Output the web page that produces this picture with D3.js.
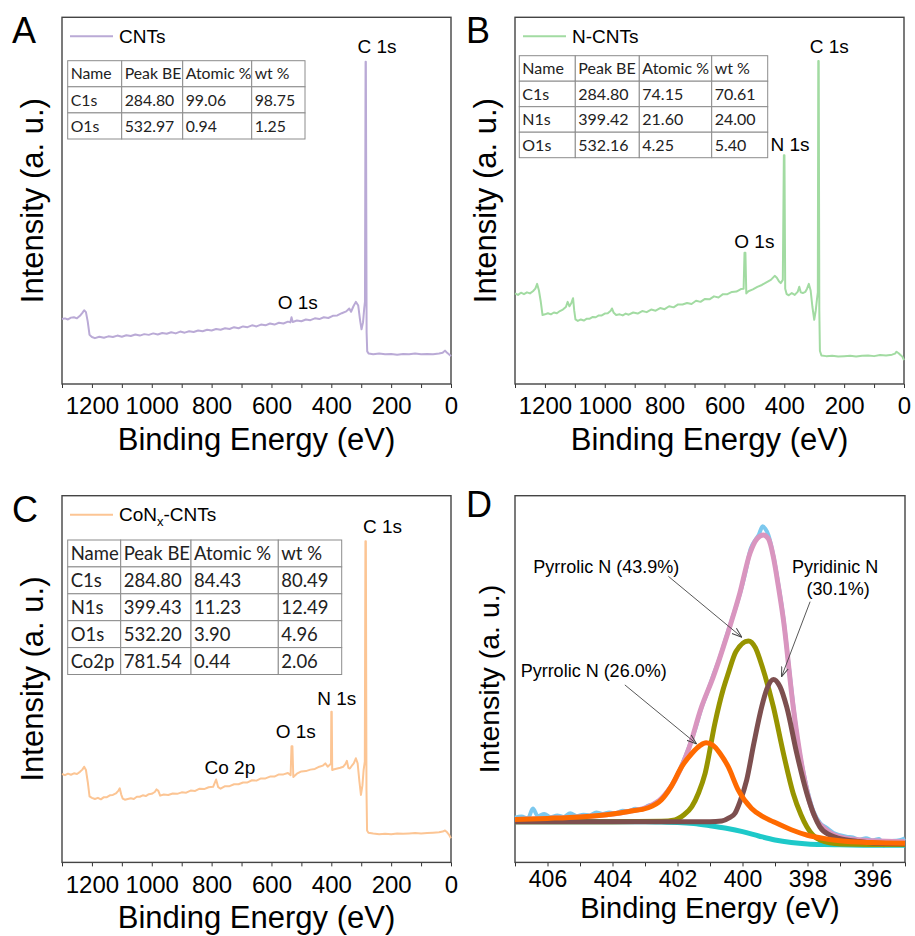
<!DOCTYPE html>
<html>
<head>
<meta charset="utf-8">
<script src="https://cdn.jsdelivr.net/npm/d3@7"></script>
<style>
	body { margin: 0; background: #fff; }
	text { font-family: 'Liberation Sans', Arial, sans-serif; fill: #000; }
	.tbl text { font-family: Lato, 'Noto Sans', sans-serif; fill: #222; }
</style>
</head>
<body>
<div id="root"></div>
<script>
// ---- data (intensity in % of plot height) ----
const surveyTicks = [1200, 1000, 800, 600, 400, 200, 0]
const surveyMinor = [1300, 1100, 900, 700, 500, 300, 100]
const hrTicks = [406, 404, 402, 400, 398, 396]
const hrMinor = [407, 405, 403, 401, 399, 397, 395]

const spectrumA = [
	[1300,17.7],[1290,17.9],[1280,17.6],[1270,18.1],[1260,18.2],[1250,17.9],[1240,18.6],[1232,19.4],[1226,20.1],[1220,19.6],
	[1214,17.0],[1208,13.4],[1200,12.8],[1190,12.5],[1175,12.9],[1160,12.6],[1145,13.0],[1130,12.8],[1115,13.2],[1100,12.9],
	[1085,13.3],[1070,13.1],[1055,13.5],[1040,13.2],[1025,13.6],[1010,13.4],[995,13.8],[980,13.5],[965,13.9],[950,13.7],
	[935,14.1],[920,13.8],[905,14.3],[890,14.0],[875,14.4],[860,14.2],[845,14.6],[830,14.4],[815,14.8],[800,14.6],
	[785,15.0],[770,14.8],[755,15.2],[740,15.0],[725,15.5],[710,15.2],[695,15.7],[680,15.5],[665,16.0],[650,15.7],
	[635,16.2],[620,16.0],[605,16.5],[590,16.2],[575,16.7],[560,16.5],[545,17.0],[537,16.8],[533,18.2],[529,16.9],
	[515,17.3],[500,17.1],[485,17.6],[470,17.4],[455,17.9],[440,17.7],[425,18.2],[410,18.0],[395,18.6],[380,18.7],
	[365,19.3],[350,19.8],[340,20.6],[334,19.7],[326,21.2],[318,22.4],[310,21.4],[304,17.5],[299,14.9],[294,16.8],
	[290,20.6],[287.5,22.5],[285.5,87.9],[284.5,87.9],[282,14.0],[280,8.9],[275,8.3],[260,8.1],[240,8.3],[220,8.1],
	[200,8.2],[180,8.0],[160,8.2],[140,8.1],[120,8.3],[100,8.1],[80,8.2],[60,8.1],[40,8.3],[28,8.5],
	[20,9.1],[14,8.6],[8,8.2],[0,7.6]
]

const spectrumB = [
	[1300,24.7],[1290,24.3],[1280,24.9],[1270,24.5],[1260,25.0],[1250,24.7],[1240,25.3],[1232,26.0],[1226,27.3],[1220,25.5],
	[1214,22.5],[1208,18.8],[1200,19.0],[1190,19.3],[1180,19.0],[1170,19.5],[1160,19.3],[1150,19.9],[1140,20.3],[1130,21.0],
	[1124,22.4],[1118,21.2],[1112,22.0],[1106,23.4],[1102,20.0],[1098,17.6],[1090,17.2],[1080,17.6],[1070,17.3],[1060,17.8],
	[1050,17.8],[1040,18.3],[1030,18.2],[1020,18.7],[1010,18.7],[1000,19.2],[990,19.3],[980,20.0],[976,20.6],[970,19.4],
	[962,18.8],[950,19.0],[940,18.7],[930,19.2],[920,18.9],[905,19.5],[890,19.2],[875,19.9],[860,19.6],[845,20.3],
	[830,20.0],[815,20.7],[800,20.4],[785,21.2],[770,20.9],[755,21.7],[740,21.7],[725,22.1],[710,21.8],[695,22.7],
	[680,22.4],[665,23.2],[650,23.1],[635,23.9],[620,23.6],[605,24.5],[590,24.5],[575,25.1],[560,25.2],[545,25.9],
	[536,26.0],[533,35.8],[530,35.8],[527,24.7],[520,25.3],[505,25.8],[490,26.5],[475,27.0],[460,27.7],[445,28.4],
	[432,29.5],[425,29.0],[418,28.0],[412,27.5],[405,28.4],[401.5,62.4],[399.5,62.4],[397,26.0],[392,24.5],[385,24.2],
	[375,24.8],[365,24.3],[355,25.2],[350,26.5],[345,25.0],[338,24.8],[330,25.1],[324,26.0],[318,27.3],[312,25.5],
	[306,21.0],[300,17.5],[295,20.0],[291,23.0],[288,25.0],[286.5,88.1],[285,88.1],[283,20.0],[281,9.0],[276,7.8],
	[260,7.6],[240,7.7],[220,7.5],[200,7.6],[180,7.7],[160,7.5],[140,7.7],[120,7.8],[100,7.6],[80,7.9],
	[60,7.8],[40,8.0],[30,8.3],[25,8.8],[18,8.4],[10,7.8],[5,7.4],[0,6.5]
]

const spectrumC = [
	[1300,24.1],[1290,23.8],[1280,24.2],[1270,23.9],[1260,24.3],[1250,24.1],[1240,24.7],[1232,25.3],[1226,26.1],[1220,25.2],
	[1214,22.0],[1208,18.0],[1200,17.6],[1190,17.3],[1180,17.6],[1170,17.2],[1160,17.8],[1150,17.8],[1140,18.3],[1130,18.4],
	[1120,18.8],[1112,19.5],[1107,20.2],[1102,18.5],[1097,17.4],[1090,17.1],[1080,17.3],[1070,17.5],[1060,17.3],[1050,17.9],
	[1040,17.9],[1030,18.3],[1020,18.1],[1010,18.6],[1000,18.7],[990,19.2],[984,19.9],[978,19.5],[972,18.2],[960,18.5],
	[945,18.4],[930,18.8],[915,18.7],[900,19.1],[885,19.0],[870,19.6],[855,19.5],[840,20.1],[825,20.0],[810,20.5],
	[795,20.6],[785,22.6],[778,20.5],[770,20.1],[755,20.8],[740,20.8],[725,21.3],[710,21.3],[695,21.8],[680,21.8],
	[665,22.4],[650,22.3],[635,22.9],[620,22.9],[605,23.4],[590,23.4],[575,24.0],[560,24.0],[545,24.4],[536,23.8],
	[533,31.7],[530,31.7],[527,23.3],[515,24.2],[500,24.8],[485,24.9],[470,25.3],[455,25.5],[440,26.1],[428,26.4],
	[420,27.0],[412,26.1],[405,26.6],[401,27.0],[400,41.1],[398.5,41.1],[397,25.2],[390,25.4],[380,25.6],[370,25.8],
	[360,26.1],[353,26.8],[348,27.7],[343,25.8],[338,25.6],[332,26.3],[325,27.0],[318,28.4],[312,27.0],[306,22.0],
	[301,18.4],[296,21.0],[292,25.2],[288,27.5],[286,87.6],[284.5,87.6],[282.5,20.0],[280.5,8.7],[276,8.1],[260,7.9],
	[240,7.7],[220,7.8],[200,7.7],[180,7.9],[160,7.8],[140,7.9],[120,8.0],[100,7.9],[80,8.0],[60,8.1],
	[40,8.2],[28,8.4],[20,8.7],[13,8.2],[7,7.6],[0,6.6]
]

const tableA = [
	['Name', 'Peak BE', 'Atomic %', 'wt %'],
	['C1s', '284.80', '99.06', '98.75'],
	['O1s', '532.97', '0.94', '1.25']
]
const tableB = [
	['Name', 'Peak BE', 'Atomic %', 'wt %'],
	['C1s', '284.80', '74.15', '70.61'],
	['N1s', '399.42', '21.60', '24.00'],
	['O1s', '532.16', '4.25', '5.40']
]
const tableC = [
	['Name', 'Peak BE', 'Atomic %', 'wt %'],
	['C1s', '284.80', '84.43', '80.49'],
	['N1s', '399.43', '11.23', '12.49'],
	['O1s', '532.20', '3.90', '4.96'],
	['Co2p', '781.54', '0.44', '2.06']
]

// peak labels: [text, eV, intensity]
const labelsA = [['C 1s', 247, 90.3], ['O 1s', 512, 20.5]]
const labelsB = [['C 1s', 250, 90.2], ['N 1s', 381, 63.6], ['O 1s', 500, 37.0]]
const labelsC = [['C 1s', 229, 89.7], ['N 1s', 382, 42.9], ['O 1s', 519, 33.8], ['Co 2p', 739, 24.0]]

// N 1s high resolution
const n1sRaw = [
	[407,12.2],[406.8,12.5],[406.6,12.0],[406.45,14.7],[406.3,12.6],[406.1,13.2],[405.9,12.3],[405.7,12.8],[405.5,12.4],[405.3,13.4],
	[405.1,12.6],[404.9,13.0],[404.7,12.8],[404.5,13.6],[404.3,13.2],[404.1,13.6],[403.9,13.4],[403.7,14.1],[403.5,14.0],[403.3,14.6],
	[403.1,14.4],[402.9,15.5],[402.7,15.8],[402.5,17.4],[402.3,19.5],[402.08,22.6],[401.9,26.0],[401.67,30.9],[401.45,36.5],[401.26,42.2],
	[401.1,46.0],[400.9,51.0],[400.7,55.8],[400.49,61.8],[400.3,67.0],[400.08,73.2],[399.9,79.5],[399.75,85.5],[399.6,88.0],[399.5,89.3],
	[399.38,91.7],[399.3,91.0],[399.2,89.2],[399.05,83.6],[398.9,76.0],[398.74,66.5],[398.6,55.5],[398.44,43.0],[398.3,33.0],[398.13,24.8],
	[397.95,17.8],[397.82,14.0],[397.6,10.6],[397.41,9.4],[397.2,8.0],[397,7.4],[396.8,7.0],[396.6,6.8],[396.4,6.2],[396.2,6.6],
	[396,6.0],[395.8,6.4],[395.65,4.6],[395.5,5.8],[395.3,5.9],[395.1,6.2],[395,6.6]
]
const n1sEnvelope = [
	[407,11.7],[406,12.0],[405,12.4],[404,13.2],[403.5,13.9],[402.9,15.2],[402.49,17.5],[402.08,22.4],[401.67,30.6],[401.26,42.4],
	[400.9,50.6],[400.49,61.5],[400.08,73.5],[399.77,84.3],[399.55,88.3],[399.36,89.3],[399.2,88.2],[399.05,83.3],[398.9,75.5],[398.74,66.1],
	[398.44,42.4],[398.13,24.3],[397.82,13.4],[397.41,8.8],[396.79,6.5],[396,5.9],[395,5.6]
]
const n1sBackground = [
	[407,11.1],[405,11.1],[403,11.1],[402.5,11.0],[402,10.9],[401.5,10.6],[401,10.0],[400.5,9.3],[400,8.4],[399.5,7.2],
	[399,6.1],[398.5,5.4],[398,5.0],[397.5,4.85],[397,4.8],[396,4.7],[395,4.7]
]
const n1sPyrrolicA = [
	[407,11.1],[404,11.1],[402.5,11.2],[402.08,11.6],[401.8,13.0],[401.56,15.2],[401.35,19.0],[401.15,24.3],[400.85,37.9],[400.6,47.0],
	[400.44,51.5],[400.2,57.5],[399.82,60.4],[399.6,58.5],[399.46,55.2],[399.31,51.0],[399.05,42.4],[398.74,29.7],[398.44,18.8],[398.2,13.0],
	[398.02,9.7],[397.62,6.1],[397,5.0],[396,4.9],[395,4.9]
]
const n1sPyridinic = [
	[407,11.1],[401,11.1],[400.64,11.3],[400.4,12.2],[400.23,13.4],[400.08,16.5],[399.87,22.5],[399.65,32.5],[399.41,42.4],[399.25,47.3],
	[399.05,49.9],[398.85,48.0],[398.64,42.4],[398.33,29.7],[398.02,18.8],[397.8,13.0],[397.62,9.7],[397.3,7.4],[397,6.5],[396.5,5.8],
	[396,5.3],[395,5.1]
]
const n1sPyrrolicB = [
	[407,11.7],[406,12.0],[405,12.4],[404,13.2],[403.5,13.9],[402.9,14.9],[402.5,17.0],[402.2,20.6],[401.87,26.1],[401.56,29.7],
	[401.3,31.9],[401.12,32.6],[400.9,31.9],[400.69,29.7],[400.44,26.1],[400.13,19.7],[399.72,14.7],[399.4,12.6],[399.05,11.1],[398.5,8.9],
	[398,7.4],[397.5,6.5],[397,5.9],[396,5.4],[395,5.2]
]

// D annotations: [text lines, eV, intensity] and arrows [[eV, I] -> [eV, I]]
const labelsD = [
	[['Pyrrolic N (43.9%)'], 404.19, 78.8],
	[['Pyrrolic N (26.0%)'], 404.58, 50.6],
	[['Pyridinic N', '(30.1%)'], 397.15, 79.0]
]
const arrowsD = [
	[[402.28, 78.0], [400.02, 61.4]],
	[[403.62, 48.4], [401.41, 32.3]],
	[[397.92, 71.1], [398.8, 50.6]]
]



const svg = d3.select('#root').append('svg')
	.attr('width', 915)
	.attr('height', 936)

svg.append('rect')
	.attr('width', 915)
	.attr('height', 936)
	.attr('fill', '#fff')

svg.append('defs').append('marker')
	.attr('id', 'arrow')
	.attr('viewBox', '0 -5 10 10')
	.attr('refX', 10)
	.attr('refY', 0)
	.attr('markerWidth', 10)
	.attr('markerHeight', 10)
	.attr('markerUnits', 'userSpaceOnUse')
	.attr('orient', 'auto')
	.append('path')
	.attr('d', 'M0,-3.5L10,0L0,3.5')
	.attr('fill', 'none')
	.attr('stroke', '#444')
	.attr('stroke-width', 1)

function frame (left, top, w, h, domain, major, minor, opt) {
	const x = d3.scaleLinear().domain(domain).range([left, left + w]),
		y = d3.scaleLinear().domain([0, 100]).range([top + h, top])

	const g = svg.append('g')

	g.append('g')
		.attr('transform', `translate(0,${top + h})`)
		.call(d3.axisBottom(x).tickValues(minor).tickSize(4).tickSizeOuter(0).tickFormat(''))
		.call(a => a.select('.domain').remove())
		.call(a => a.selectAll('line').attr('stroke', '#333'))

	g.append('g')
		.attr('transform', `translate(0,${top + h})`)
		.call(d3.axisBottom(x).tickValues(major).tickSize(4).tickSizeOuter(0).tickPadding(opt.pad).tickFormat(d3.format('d')))
		.call(a => a.select('.domain').remove())
		.call(a => a.selectAll('line').attr('stroke', '#333'))
		.call(a => a.selectAll('text')
			.attr('font-size', opt.tickFont + 'px')
			.attr('font-family', "'Liberation Sans', Arial, sans-serif")
			.attr('fill', '#000'))

	g.append('rect')
		.attr('x', left)
		.attr('y', top)
		.attr('width', w)
		.attr('height', h)
		.attr('fill', 'none')
		.attr('stroke', '#444')
		.attr('stroke-width', 1.4)

	g.append('text')
		.attr('x', left + w / 2)
		.attr('y', top + h + opt.titleGap)
		.attr('text-anchor', 'middle')
		.attr('font-size', opt.titleFont + 'px')
		.text('Binding Energy (eV)')

	g.append('text')
		.attr('transform', `translate(${left - opt.yGap},${top + h / 2}) rotate(-90)`)
		.attr('text-anchor', 'middle')
		.attr('font-size', opt.yFont + 'px')
		.text('Intensity (a. u.)')

	g.append('text')
		.attr('x', opt.letterX)
		.attr('y', top + opt.letterDy)
		.attr('font-size', '36px')
		.text(opt.letter)

	return { g, x, y }
}

function drawTable (g, rows, x0, y0, colW, rowH, fs) {
	const t = g.append('g').attr('class', 'tbl')
	rows.forEach((row, i) => {
		let cx = x0
		row.forEach((cell, j) => {
			t.append('rect')
				.attr('x', cx)
				.attr('y', y0 + i * rowH)
				.attr('width', colW[j])
				.attr('height', rowH)
				.attr('fill', '#fff')
				.attr('stroke', '#8c8c8c')
				.attr('stroke-width', 1)
			t.append('text')
				.attr('x', cx + 3)
				.attr('y', y0 + i * rowH + rowH / 2)
				.attr('dy', '0.36em')
				.attr('font-size', fs + 'px')
				.text(cell)
			cx += colW[j]
		})
	})
}

function legend (g, left, top, color, name, sub, rest) {
	g.append('line')
		.attr('x1', left + 8)
		.attr('x2', left + 51)
		.attr('y1', top + 19)
		.attr('y2', top + 19)
		.attr('stroke', color)
		.attr('stroke-width', 2)
	const t = g.append('text')
		.attr('x', left + 57)
		.attr('y', top + 25.4)
		.attr('font-size', '19px')
	t.append('tspan').text(name)
	if (sub) {
		t.append('tspan').attr('font-size', '13px').attr('dy', 5).text(sub)
		t.append('tspan').attr('dy', -5).text(rest)
	}
}

const surveyOpt = { pad: 9.4, tickFont: 24, titleGap: 66, titleFont: 31, yFont: 31, yGap: 19.5, letterDy: 26 }
const line = (x, y) => d3.line().x(d => x(d[0])).y(d => y(d[1]))

function survey (cfg) {
	const { g, x, y } = frame(cfg.left, cfg.top, 389, 366.7, [1300, 0], surveyTicks, surveyMinor,
		Object.assign({}, surveyOpt, { letter: cfg.letter, letterX: cfg.letterX }))

	g.append('path')
		.datum(cfg.data)
		.attr('d', line(x, y))
		.attr('fill', 'none')
		.attr('stroke', cfg.color)
		.attr('stroke-width', 2)
		.attr('stroke-linejoin', 'round')

	legend(g, cfg.left, cfg.top, cfg.color, cfg.name, cfg.sub, cfg.rest)
	drawTable(g, cfg.table, cfg.tx, cfg.ty, cfg.colW, cfg.rowH, cfg.fs)

	g.selectAll('.peak')
		.data(cfg.labels)
		.enter()
		.append('text')
		.attr('class', 'peak')
		.attr('x', d => x(d[1]))
		.attr('y', d => y(d[2]))
		.attr('text-anchor', 'middle')
		.attr('font-size', '19px')
		.text(d => d[0])
}

survey({ letter: 'A', letterX: 12, left: 62, top: 17.3, data: spectrumA, color: '#baaad6', name: 'CNTs',
	table: tableA, tx: 67.7, ty: 60.7, colW: [54, 61, 69, 53.3], rowH: 26.1, fs: 15.8, labels: labelsA })
survey({ letter: 'B', letterX: 466, left: 515, top: 17.3, data: spectrumB, color: '#a2dba2', name: 'N-CNTs',
	table: tableB, tx: 519.3, ty: 55.7, colW: [56, 64, 72.4, 56], rowH: 25.5, fs: 16, labels: labelsB })
survey({ letter: 'C', letterX: 12, left: 62, top: 495.7, data: spectrumC, color: '#fcc594', name: 'CoN', sub: 'x', rest: '-CNTs',
	table: tableC, tx: 67.7, ty: 540, colW: [53, 70.3, 87.3, 63.4], rowH: 26.9, fs: 18.5, labels: labelsC })


// ---- D: N 1s ----
const d = frame(515, 495.7, 390, 366.7, [407, 395], hrTicks, hrMinor,
	{ pad: 4.1, tickFont: 23, titleGap: 56, titleFont: 29, yFont: 28.5, yGap: 16, letter: 'D', letterX: 466, letterDy: 21 })

const curvesD = [
	{ data: n1sRaw, color: '#7cc8ee', width: 4 },
	{ data: n1sEnvelope, color: '#d995bf', width: 5 },
	{ data: n1sBackground, color: '#1ec9c9', width: 5 },
	{ data: n1sPyrrolicA, color: '#979400', width: 5 },
	{ data: n1sPyridinic, color: '#7d4f4f', width: 5 },
	{ data: n1sPyrrolicB, color: '#ff6a00', width: 5 }
]

d.g.selectAll('.fit')
	.data(curvesD)
	.enter()
	.append('path')
	.attr('class', 'fit')
	.attr('d', c => line(d.x, d.y).curve(d3.curveMonotoneX)(c.data))
	.attr('fill', 'none')
	.attr('stroke', c => c.color)
	.attr('stroke-width', c => c.width)
	.attr('stroke-linejoin', 'round')

d.g.selectAll('.arrow')
	.data(arrowsD)
	.enter()
	.append('line')
	.attr('class', 'arrow')
	.attr('x1', a => d.x(a[0][0]))
	.attr('y1', a => d.y(a[0][1]))
	.attr('x2', a => d.x(a[1][0]))
	.attr('y2', a => d.y(a[1][1]))
	.attr('stroke', '#444')
	.attr('stroke-width', 0.9)
	.attr('marker-end', 'url(#arrow)')

labelsD.forEach(l => {
	const t = d.g.append('text')
		.attr('x', d.x(l[1]))
		.attr('y', d.y(l[2]))
		.attr('text-anchor', 'middle')
		.attr('font-size', '18px')
	l[0].forEach((s, i) => {
		t.append('tspan')
			.attr('x', d.x(l[1]) + (i ? 3 : 0))
			.attr('dy', i ? 22.3 : 0)
			.text(s)
	})
})
</script>
</body>
</html>
